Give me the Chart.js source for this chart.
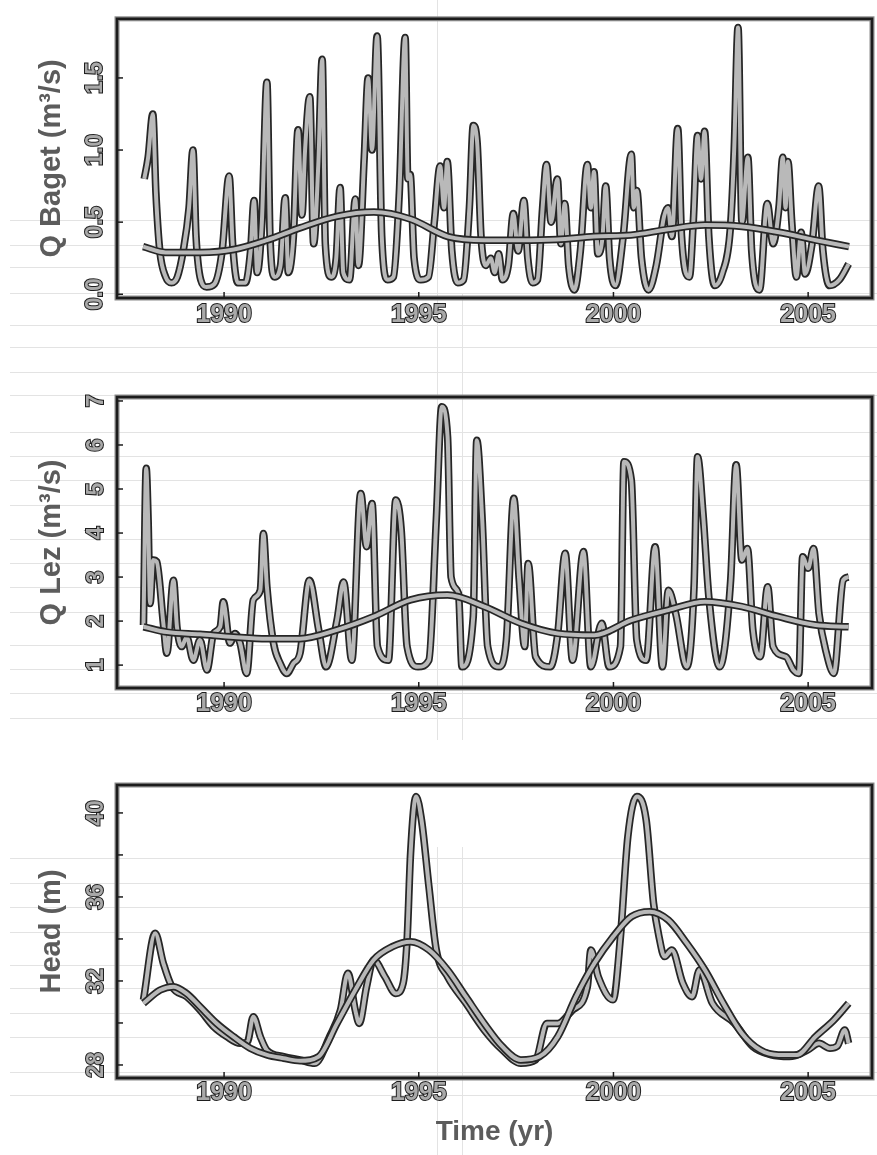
<!DOCTYPE html>
<html><head><meta charset="utf-8">
<script src="https://cdn.jsdelivr.net/npm/chart.js@4.4.1/dist/chart.umd.min.js"></script>
<style>
html,body{margin:0;padding:0;background:#fff;}
body{width:877px;height:1155px;position:relative;overflow:hidden;}
canvas{position:absolute;left:0;}
.hl{position:absolute;left:10px;width:867px;height:1px;background:#e3e3e3;}
.vl{position:absolute;width:1px;background:#e3e3e3;}
</style></head><body>
<div id="paper"></div>
<canvas id="c1" width="877" height="340" style="top:0;width:877px;height:340px"></canvas>
<canvas id="c2" width="877" height="400" style="top:340px;width:877px;height:400px"></canvas>
<canvas id="c3" width="877" height="415" style="top:740px;width:877px;height:415px"></canvas>
<script>
// ---------- data (decimal years) ----------
const xTickYears = [1990, 1995, 2000, 2005];

const bagetTicks = [0, 0.5, 1.0, 1.5];
const bagetYears = [1987.95,1988.05,1988.17,1988.25,1988.35,1988.5,1988.65,1988.8,1988.95,1989.1,1989.2,1989.28,1989.4,1989.55,1989.75,1989.95,1990.13,1990.22,1990.35,1990.55,1990.68,1990.77,1990.85,1990.97,1991.1,1991.18,1991.3,1991.45,1991.57,1991.65,1991.78,1991.9,1992.0,1992.08,1992.2,1992.3,1992.42,1992.52,1992.6,1992.75,1992.88,1992.98,1993.06,1993.22,1993.37,1993.45,1993.6,1993.7,1993.8,1993.93,1994.05,1994.2,1994.35,1994.5,1994.65,1994.72,1994.78,1994.88,1995.05,1995.25,1995.4,1995.55,1995.65,1995.73,1995.85,1996.0,1996.15,1996.3,1996.4,1996.5,1996.6,1996.72,1996.85,1996.95,1997.05,1997.15,1997.3,1997.43,1997.55,1997.7,1997.8,1997.92,1998.05,1998.18,1998.28,1998.4,1998.56,1998.65,1998.75,1998.85,1999.0,1999.15,1999.33,1999.42,1999.5,1999.6,1999.72,1999.8,1999.9,2000.05,2000.25,2000.46,2000.52,2000.6,2000.72,2000.9,2001.1,2001.3,2001.4,2001.5,2001.65,2001.75,2001.95,2002.05,2002.16,2002.25,2002.34,2002.45,2002.6,2002.8,2003.0,2003.1,2003.2,2003.3,2003.45,2003.55,2003.75,2003.95,2004.1,2004.25,2004.35,2004.42,2004.48,2004.58,2004.7,2004.82,2004.92,2005.1,2005.27,2005.38,2005.55,2005.8,2006.04];
const bagetQ = [0.80,0.95,1.25,0.70,0.30,0.12,0.08,0.12,0.30,0.60,1.00,0.40,0.10,0.05,0.07,0.30,0.82,0.35,0.08,0.08,0.30,0.65,0.15,0.50,1.47,0.40,0.12,0.20,0.67,0.15,0.40,1.14,0.55,1.00,1.37,0.35,0.90,1.63,0.35,0.12,0.25,0.74,0.15,0.10,0.66,0.20,0.95,1.50,1.00,1.79,0.40,0.10,0.12,0.70,1.78,0.80,0.83,0.25,0.10,0.12,0.50,0.89,0.60,0.92,0.30,0.08,0.10,0.60,1.17,1.05,0.40,0.20,0.25,0.15,0.28,0.10,0.20,0.56,0.30,0.65,0.25,0.08,0.10,0.60,0.90,0.50,0.80,0.35,0.63,0.20,0.03,0.30,0.90,0.60,0.85,0.28,0.40,0.75,0.25,0.06,0.40,0.97,0.60,0.72,0.25,0.03,0.20,0.54,0.60,0.40,1.15,0.40,0.12,0.50,1.10,0.80,1.13,0.40,0.06,0.15,0.45,1.00,1.85,0.50,0.95,0.30,0.03,0.63,0.35,0.60,0.95,0.60,0.92,0.50,0.12,0.43,0.14,0.35,0.75,0.30,0.06,0.10,0.21];
const bagetTrendYears = [1987.92,1988.5,1989.4,1990.25,1991.1,1991.95,1992.9,1993.85,1994.8,1995.75,1996.7,1997.6,1998.55,1999.5,2000.45,2001.4,2002.35,2003.3,2004.25,2005.2,2006.05];
const bagetTrend = [0.33,0.29,0.29,0.31,0.375,0.46,0.54,0.57,0.52,0.40,0.375,0.375,0.38,0.40,0.41,0.45,0.48,0.47,0.43,0.375,0.33];

const lezTicks = [1, 2, 3, 4, 5, 6, 7];
const lezYears = [1987.93,1988.0,1988.05,1988.1,1988.18,1988.27,1988.44,1988.53,1988.7,1988.79,1988.91,1989.04,1989.21,1989.38,1989.56,1989.73,1989.9,1989.98,1990.15,1990.28,1990.41,1990.58,1990.75,1990.93,1991.01,1991.1,1991.27,1991.44,1991.61,1991.78,1991.95,1992.19,1992.43,1992.62,1992.9,1993.07,1993.28,1993.51,1993.66,1993.8,1993.94,1994.22,1994.41,1994.55,1994.7,1994.98,1995.26,1995.45,1995.59,1995.74,1995.83,1996.02,1996.11,1996.4,1996.49,1996.63,1996.77,1997.06,1997.25,1997.44,1997.58,1997.72,1997.81,1998.0,1998.38,1998.57,1998.76,1998.95,1999.23,1999.42,1999.7,1999.89,2000.18,2000.27,2000.46,2000.6,2000.84,2001.07,2001.26,2001.41,2001.6,2001.88,2002.07,2002.16,2002.3,2002.45,2002.73,2003.01,2003.15,2003.3,2003.44,2003.58,2003.77,2003.96,2004.1,2004.43,2004.62,2004.76,2004.86,2005.0,2005.14,2005.28,2005.47,2005.66,2005.9,2006.04];
const lezQ = [1.91,5.47,4.3,2.4,3.39,3.35,1.95,1.27,2.93,1.87,1.42,1.64,1.11,1.57,0.89,1.72,1.87,2.44,1.5,1.72,1.5,0.81,2.48,2.7,3.99,2.78,1.5,1.04,0.81,1.04,1.27,2.93,1.8,0.96,2.02,2.89,1.11,4.9,3.69,4.67,1.42,1.11,4.75,4.07,1.42,0.96,1.11,4.3,6.87,6.19,3.0,2.63,0.96,2.1,6.11,4.3,1.42,0.96,1.57,4.79,2.93,1.42,3.31,1.19,0.96,1.72,3.54,1.11,3.58,0.96,1.95,0.96,1.42,5.62,5.2,1.57,1.11,3.69,0.96,2.7,2.17,0.96,2.78,5.73,4.45,2.55,0.96,2.93,5.55,3.39,3.65,1.8,1.19,2.78,1.42,1.19,0.89,0.81,3.46,3.2,3.65,2.17,1.27,0.81,2.93,3.0];
const lezTrendYears = [1987.93,1988.53,1989.38,1990.24,1991.1,1991.95,1992.9,1993.84,1994.79,1995.74,1996.68,1997.62,1998.57,1999.51,2000.46,2001.41,2002.35,2003.3,2004.24,2005.19,2006.04];
const lezTrend = [1.87,1.75,1.7,1.64,1.6,1.6,1.8,2.1,2.48,2.59,2.33,1.95,1.72,1.68,2.02,2.25,2.44,2.33,2.1,1.91,1.87];

const headTicks = [28, 30, 32, 34, 36, 38, 40];
const headTickLabels = {28:'28', 32:'32', 36:'36', 40:'40'};
const headObsYears = [1987.93,1988.23,1988.44,1988.66,1989.04,1989.38,1989.73,1990.07,1990.41,1990.6,1990.75,1990.93,1991.1,1991.53,1991.95,1992.33,1992.71,1992.99,1993.18,1993.37,1993.47,1993.66,1993.84,1994.13,1994.41,1994.6,1994.7,1994.79,1994.93,1995.07,1995.26,1995.45,1995.74,1996.21,1996.68,1997.15,1997.62,1998.0,1998.29,1998.57,1998.95,1999.33,1999.42,1999.61,1999.99,2000.18,2000.37,2000.6,2000.84,2001.03,2001.17,2001.31,2001.5,2001.78,2002.02,2002.21,2002.54,2003.11,2003.58,2004.05,2004.52,2004.98,2005.28,2005.56,2005.75,2005.94,2006.04];
const headObs = [31.1,34.27,32.84,31.73,31.25,30.62,29.83,29.35,29.03,29.1,30.3,29.35,28.7,28.4,28.24,28.08,29.35,30.62,32.37,30.6,29.98,31.73,33.0,32.2,31.4,31.9,33.95,38.08,40.78,39.67,36.5,33.48,32.2,30.94,29.67,28.71,28.08,28.24,29.98,29.98,30.62,31.73,33.48,32.2,31.1,34.1,38.87,40.78,39.67,35.7,34.11,33.16,33.48,31.9,31.25,32.52,30.94,29.98,28.87,28.48,28.4,28.71,29.03,28.8,28.9,29.67,29.03];
const headSimYears = [1987.93,1988.36,1988.7,1989.04,1989.38,1989.81,1990.24,1990.67,1991.1,1991.53,1991.95,1992.43,1992.9,1993.37,1993.84,1994.32,1994.79,1995.26,1995.74,1996.21,1996.68,1997.15,1997.62,1998.1,1998.57,1999.04,1999.51,1999.99,2000.46,2000.93,2001.41,2001.88,2002.35,2002.82,2003.3,2003.77,2004.24,2004.71,2005.19,2005.66,2006.04];
const headSim = [30.94,31.57,31.73,31.4,30.78,29.98,29.35,28.8,28.48,28.32,28.2,28.4,29.98,31.57,33.0,33.63,33.87,33.48,32.52,31.25,29.98,28.87,28.24,28.4,29.35,31.25,32.84,34.1,35.06,35.3,34.9,33.8,32.52,30.94,29.5,28.71,28.48,28.48,29.35,30.14,30.94];

// faint ruled-paper lines of the scanned page (decoration only)
const paperRows = [220,245,267,293,325,347,372,395,432,456,480,505,539,563,587,612,645,669,693,718,858,883,907,932,965,988,1013,1037,1072,1095];
const paperCols = [[437,0,740],[462,293,740],[437,847,1155],[462,847,1155]];

// ---------- styling ----------
const FONT = "'Liberation Sans', Arial, sans-serif";
const X_MIN = 1987.25, X_MAX = 2006.64;
const FILL = '#b9b9b9', EDGE = '#262626';
const TICK_FILL = '#a9a9a9', TICK_EDGE = '#1e1e1e', TITLE_COL = '#5c5c5c';

const paper = document.getElementById('paper');
paperRows.forEach(y => { const d = document.createElement('div'); d.className = 'hl'; d.style.top = y + 'px'; paper.appendChild(d); });
paperCols.forEach(([x, a, b]) => { const d = document.createElement('div'); d.className = 'vl';
  d.style.left = x + 'px'; d.style.top = a + 'px'; d.style.height = (b - a) + 'px'; paper.appendChild(d); });

const pts = (xs, ys) => xs.map((x, i) => ({x, y: ys[i]}));
function outlined(xs, ys) {
  const d = pts(xs, ys);
  return [
    {data: d, borderColor: FILL, borderWidth: 4, pointRadius: 0, cubicInterpolationMode: 'monotone', fill: false},
    {data: d, borderColor: EDGE, borderWidth: 7.5, pointRadius: 0, cubicInterpolationMode: 'monotone', fill: false}
  ];
}

const frame = {
  id: 'frame',
  afterDraw(chart) {
    const {ctx, chartArea: a} = chart;
    ctx.save();
    ctx.strokeStyle = '#8a8a8a'; ctx.lineWidth = 5;
    ctx.strokeRect(a.left, a.top, a.right - a.left, a.bottom - a.top);
    ctx.strokeStyle = '#1c1c1c'; ctx.lineWidth = 2.5;
    ctx.strokeRect(a.left, a.top, a.right - a.left, a.bottom - a.top);
    ctx.lineWidth = 1.5;
    const xs = chart.scales.x, ys = chart.scales.y;
    xs.ticks.forEach(t => { const p = xs.getPixelForValue(t.value);
      ctx.beginPath(); ctx.moveTo(p, a.bottom); ctx.lineTo(p, a.bottom - 6); ctx.stroke(); });
    ys.ticks.forEach(t => { const p = ys.getPixelForValue(t.value);
      ctx.beginPath(); ctx.moveTo(a.left, p); ctx.lineTo(a.left + 6, p); ctx.stroke(); });
    ctx.restore();
  }
};

function xAxis(height, pad, showTitle) {
  return {
    type: 'linear', min: X_MIN, max: X_MAX,
    afterBuildTicks: s => { s.ticks = xTickYears.map(v => ({value: v})); },
    afterFit: s => { s.height = height; },
    grid: {display: false, drawTicks: false}, border: {display: false},
    ticks: {font: {family: FONT, size: 25, weight: 'bold'}, color: TICK_FILL,
      textStrokeColor: TICK_EDGE, textStrokeWidth: 2, padding: pad,
      minRotation: 0, maxRotation: 0, autoSkip: false, callback: v => String(v)},
    title: {display: showTitle, text: 'Time (yr)', color: TITLE_COL,
      font: {family: FONT, size: 28, weight: 'bold'}, padding: {top: 0, bottom: 6}}
  };
}
function yAxis(min, max, tickVals, fmt, title, pad) {
  return {
    type: 'linear', min, max,
    afterBuildTicks: s => { s.ticks = tickVals.map(v => ({value: v})); },
    afterFit: s => { s.width = 117; },
    grid: {display: false, drawTicks: false}, border: {display: false},
    ticks: {font: {family: FONT, size: 23, weight: 'bold'}, color: TICK_FILL,
      textStrokeColor: TICK_EDGE, textStrokeWidth: 2, padding: pad,
      minRotation: 90, maxRotation: 90, crossAlign: 'center', autoSkip: false, callback: fmt},
    title: {display: true, text: title, color: TITLE_COL,
      font: {family: FONT, size: 29, weight: 'bold'}, padding: {top: 35, bottom: 0}}
  };
}
function makeChart(id, datasets, padTop, x, y) {
  return new Chart(document.getElementById(id), {
    type: 'line',
    data: {datasets},
    options: {
      responsive: false, animation: false, events: [],
      layout: {padding: {left: 0, right: 5, top: padTop, bottom: 0}},
      plugins: {legend: {display: false}, tooltip: {enabled: false}},
      scales: {x, y}
    },
    plugins: [frame]
  });
}

makeChart('c1', [...outlined(bagetTrendYears, bagetTrend), ...outlined(bagetYears, bagetQ)], 6,
  xAxis(42, 2, false),
  yAxis(-0.026, 1.91, bagetTicks, v => v.toFixed(1), 'Q Baget (m³/s)', 5));
makeChart('c2', [...outlined(lezTrendYears, lezTrend), ...outlined(lezYears, lezQ)], 57,
  xAxis(52, 1, false),
  yAxis(0.48, 7.09, lezTicks, v => String(v), 'Q Lez (m³/s)', 14));
makeChart('c3', [...outlined(headSimYears, headSim), ...outlined(headObsYears, headObs)], 45,
  xAxis(77, 0, true),
  yAxis(27.38, 41.33, headTicks, v => headTickLabels[v] || '', 'Head (m)', 8));
</script>
</body></html>
